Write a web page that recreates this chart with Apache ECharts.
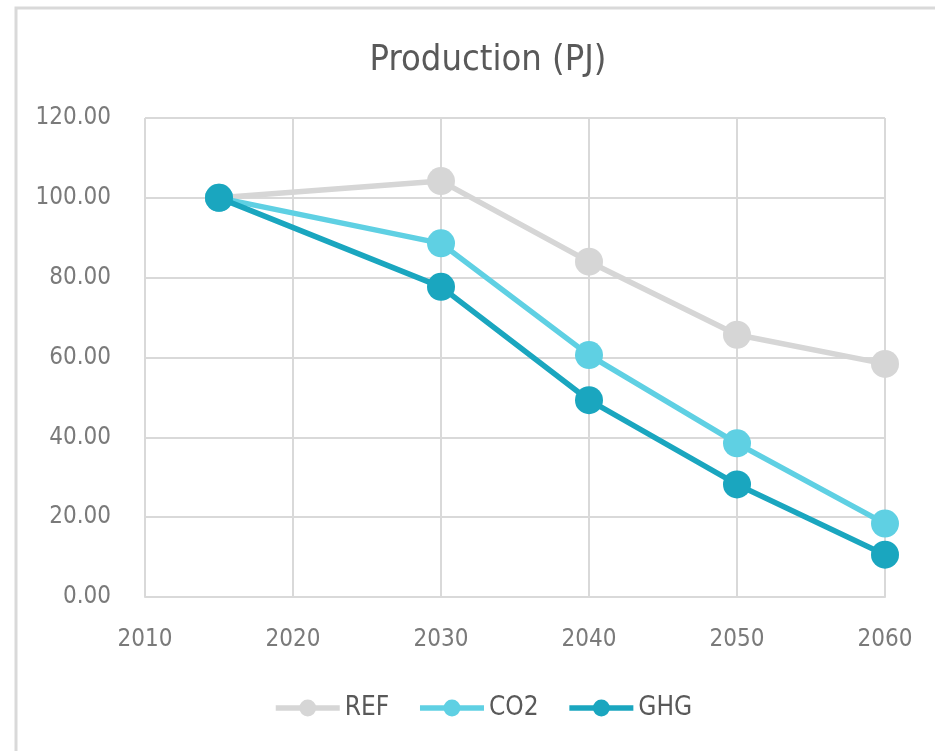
<!DOCTYPE html>
<html>
<head>
<meta charset="utf-8">
<script src="https://cdn.jsdelivr.net/npm/echarts@6/dist/echarts.min.js"></script>
<style>
  html, body { margin: 0; padding: 0; background: #ffffff; }
  #chart { width: 935px; height: 751px; }
</style>
</head>
<body>
<div id="chart"></div>
<script>
// Production index (PJ), base year 2015 = 100
const years = [2015, 2030, 2040, 2050, 2060];
const refValues = [100, 104.2, 84.0, 65.7, 58.4];
const co2Values = [100, 88.6, 60.6, 38.5, 18.4];
const ghgValues = [100, 77.7, 49.3, 28.2, 10.6];
const seriesNames = ['REF', 'CO2', 'GHG'];
const seriesColors = ['#d6d6d6', '#5fd0e3', '#1aa6bf'];

const FONT = '"DejaVu Sans Condensed", "Liberation Sans Narrow", "Roboto", sans-serif';

function pairs(values) {
  return years.map((y, i) => [y, values[i]]);
}

function lineSeries(name, values, color, z) {
  return {
    name: name,
    type: 'line',
    data: pairs(values),
    symbol: 'circle',
    symbolSize: 28,
    z: z,
    lineStyle: { color: color, width: 5.5 },
    itemStyle: { color: color },
    emphasis: { disabled: true }
  };
}

const chart = echarts.init(document.getElementById('chart'), null, { renderer: 'canvas' });

chart.setOption({
  animation: false,
  backgroundColor: '#ffffff',
  graphic: [{
    type: 'rect',
    shape: { x: 16, y: 8, width: 940, height: 760 },
    style: { fill: 'none', stroke: '#d9d9d9', lineWidth: 3 },
    silent: true
  }],
  title: {
    text: 'Production (PJ)',
    left: 483,
    top: 38,
    textAlign: 'center',
    textStyle: { fontFamily: FONT, fontSize: 36, fontWeight: 'normal', color: '#595959' }
  },
  legend: {
    data: seriesNames,
    left: 268,
    top: 690,
    itemWidth: 64,
    itemHeight: 21,
    itemGap: 28,
    lineStyle: { width: 5.5 },
    textStyle: { fontFamily: FONT, fontSize: 26, color: '#595959' }
  },
  grid: { left: 145, right: 50, top: 118, bottom: 154, containLabel: false },
  xAxis: {
    type: 'value',
    min: 2010,
    max: 2060,
    interval: 10,
    axisLine: { show: true, lineStyle: { color: '#d9d9d9', width: 2 } },
    axisTick: { show: false },
    splitLine: { show: true, lineStyle: { color: '#d9d9d9', width: 2 } },
    axisLabel: {
      margin: 31,
      fontFamily: FONT,
      fontSize: 24,
      color: '#7a7a7a',
      formatter: v => String(v)
    }
  },
  yAxis: {
    type: 'value',
    min: 0,
    max: 120,
    interval: 20,
    axisLine: { show: false },
    axisTick: { show: false },
    splitLine: { show: true, lineStyle: { color: '#d9d9d9', width: 2 } },
    axisLabel: {
      margin: 34,
      fontFamily: FONT,
      fontSize: 24,
      color: '#7a7a7a',
      formatter: v => v.toFixed(2)
    }
  },
  series: [
    lineSeries(seriesNames[0], refValues, seriesColors[0], 2),
    lineSeries(seriesNames[1], co2Values, seriesColors[1], 3),
    lineSeries(seriesNames[2], ghgValues, seriesColors[2], 4)
  ]
});
</script>
</body>
</html>
